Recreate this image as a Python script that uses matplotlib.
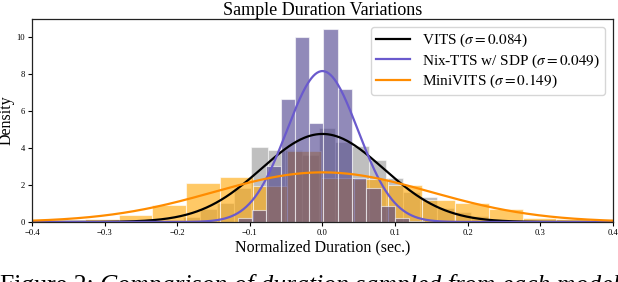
import numpy as np
import matplotlib
matplotlib.use("Agg")
import matplotlib.pyplot as plt

plt.rcParams['font.family'] = ['Liberation Serif', 'DejaVu Serif']
plt.rcParams['mathtext.fontset'] = 'stix'

# ---- data ----
series_names = ["VITS", "Nix-TTS w/ SDP", "MiniVITS"]
sigmas = [0.084, 0.049, 0.149]

vits_start, vits_width = -0.2148, 0.02327
vits_heights = [0.1, 0.25, 0.68, 1.04, 1.82, 4.07, 3.86, 3.9, 3.6, 5.05, 4.3,
                4.1, 3.34, 2.36, 1.63, 1.35, 0.75, 0.55, 0.3, 0.12, 0.07]

nix_start, nix_width = -0.1168, 0.0197
nix_heights = [0.22, 0.65, 3.0, 6.64, 10.0, 5.33, 10.4, 7.17, 2.36, 1.83, 0.86, 0.22, 0.05]

mini_start, mini_width = -0.4197, 0.04636
mini_heights = [0.1, 0.1, 0.15, 0.37, 0.92, 2.1, 2.45, 1.95, 3.85, 2.35, 2.3, 2.0,
                1.19, 1.05, 0.68, 0.24, 0.16, 0.1]

xticks = [-0.4, -0.3, -0.2, -0.1, 0.0, 0.1, 0.2, 0.3, 0.4]
yticks = [0, 2, 4, 6, 8, 10]

fig = plt.figure(figsize=(6.18, 2.82), dpi=100)
ax = fig.add_axes([0.0518, 0.2128, 0.940, 0.7198])


def draw_hist(start, width, heights, color, alpha):
    lefts = start + width * np.arange(len(heights))
    ax.bar(lefts, heights, width=width, align='edge', color=color, alpha=alpha,
           edgecolor='white', linewidth=0.8)


draw_hist(vits_start, vits_width, vits_heights, 'gray', 0.5)
draw_hist(mini_start, mini_width, mini_heights, 'orange', 0.6)
draw_hist(nix_start, nix_width, nix_heights, 'darkslateblue', 0.6)

x = np.linspace(-0.4, 0.4, 600)
line_colors = ['black', 'slateblue', 'darkorange']
for name, s, c in zip(series_names, sigmas, line_colors):
    pdf = np.exp(-0.5 * (x / s) ** 2) / (s * np.sqrt(2 * np.pi))
    ax.plot(x, pdf, color=c, lw=1.6, label=f"{name} ($\\sigma={s}$)")

ax.set_xlim(-0.4, 0.4)
ax.set_ylim(0, 10.95)
ax.set_xticks(xticks)
ax.set_yticks(yticks)
ax.set_xticklabels([("\u2212" if v < 0 else "") + f"{abs(v):.1f}" for v in xticks])
ax.tick_params(labelsize=6.2, length=3, width=0.8, pad=2)
for sp in ax.spines.values():
    sp.set_linewidth(0.9)
    sp.set_color('#222222')

ax.set_title("Sample Duration Variations", fontsize=13, pad=3)
ax.set_xlabel("Normalized Duration (sec.)", fontsize=11.5, labelpad=2)
ax.set_ylabel("Density", fontsize=11.5, labelpad=1)

leg = ax.legend(loc='upper right', fontsize=11, frameon=True, fancybox=True,
                framealpha=0.8, edgecolor='#cccccc', borderpad=0.35,
                labelspacing=0.2, handlelength=2.2, borderaxespad=0.5)

# caption (cut off at the bottom of the picture, as in the reference)
cap_y = -0.035
t1 = fig.text(0.0, cap_y, "Figure 2: ", fontsize=18.5, va='baseline', ha='left')
fig.canvas.draw()
r = fig.canvas.get_renderer()
bb = t1.get_window_extent(r)
fig.text(bb.x1 / fig.bbox.width, cap_y, "Comparison of duration sampled from each model",
         fontsize=18.5, style='italic', va='baseline', ha='left')

fig.savefig("out.png", dpi=100)
